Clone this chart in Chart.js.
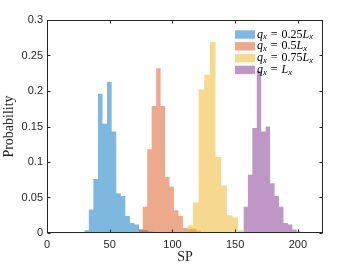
<!DOCTYPE html>
<html>
<head>
<meta charset="utf-8">
<script src="https://cdn.jsdelivr.net/npm/chart.js@4.4.1/dist/chart.umd.min.js"></script>
<style>
  html, body { margin: 0; padding: 0; background: #fff; }
  #chart { width: 357px; height: 268px; }
</style>
</head>
<body>
<div id="chart"><canvas id="c" width="357" height="268"></canvas></div>
<script>
// histogram data (probability per bin)
const labels = ["qₓ = 0.25Lₓ", "qₓ = 0.5Lₓ", "qₓ = 0.75Lₓ", "qₓ = Lₓ"];

// left edge of the first bin and bin width for each series (SP units)
const binStart = [29.7, 72.8, 111.9, 156.6];
const binWidth = [3.64, 3.55, 4.49, 3.54];

const probQ025 = [0.004, 0.033, 0.076, 0.196, 0.154, 0.213, 0.143, 0.056, 0.052, 0.024, 0.014, 0.012, 0.005, 0.004, 0.002];
const probQ050 = [0.005, 0.037, 0.118, 0.179, 0.232, 0.179, 0.079, 0.065, 0.032, 0.024, 0.007, 0.006, 0.006, 0.003, 0.001];
const probQ075 = [0.011, 0.043, 0.202, 0.223, 0.269, 0.107, 0.067, 0.025, 0.022, 0.004];
const probQ100 = [0.037, 0.082, 0.148, 0.228, 0.143, 0.150, 0.070, 0.052, 0.037, 0.014, 0.012, 0.005, 0.002];

const xTicks = [0, 50, 100, 150, 200];
const yTicks = [0, 0.05, 0.1, 0.15, 0.2, 0.25, 0.3];

// MATLAB default colours, face alpha 0.5
const colors = [
  "rgba(0,114,189,0.5)",
  "rgba(217,83,25,0.5)",
  "rgba(237,177,32,0.5)",
  "rgba(126,47,142,0.5)"
];

// turn bins into step points (left edges + closing right edge)
function steps(start, width, probs) {
  const pts = probs.map((p, i) => ({ x: start + i * width, y: p }));
  pts.push({ x: start + probs.length * width, y: 0 });
  return pts;
}

const series = [probQ025, probQ050, probQ075, probQ100];

const datasets = series.map((probs, i) => ({
  label: labels[i],
  data: steps(binStart[i], binWidth[i], probs),
  stepped: true,
  fill: "origin",
  backgroundColor: colors[i],
  borderColor: "rgba(0,0,0,0)",
  borderWidth: 0,
  pointRadius: 0,
  order: series.length - i
}));

const ink = "#262626";

// box with inward ticks on all four sides, like a MATLAB axes
const boxPlugin = {
  id: "box",
  afterDatasetsDraw(chart) {
    const { ctx, chartArea: a, scales } = chart;
    const L = Math.round(a.left) + 0.5, R = Math.round(a.right) - 0.5;
    const T = Math.round(a.top) + 0.5, B = Math.round(a.bottom) - 0.5;
    const len = 3;
    ctx.save();
    ctx.strokeStyle = ink;
    ctx.lineWidth = 1;
    ctx.strokeRect(L, T, R - L, B - T);
    ctx.beginPath();
    xTicks.forEach(v => {
      const px = Math.round(scales.x.getPixelForValue(v)) + 0.5;
      ctx.moveTo(px, B); ctx.lineTo(px, B - len);
      ctx.moveTo(px, T); ctx.lineTo(px, T + len);
    });
    yTicks.forEach(v => {
      const py = Math.round(scales.y.getPixelForValue(v)) + 0.5;
      ctx.moveTo(L, py); ctx.lineTo(L + len, py);
      ctx.moveTo(R, py); ctx.lineTo(R - len, py);
    });
    ctx.stroke();
    ctx.restore();
  }
};

// draw "qₓ = 0.25Lₓ" with italic letters and a subscript x
function drawMath(ctx, str, x, y, size) {
  for (const ch of str) {
    let c = ch, dy = 0, font;
    if (ch === "ₓ") {
      c = "x"; dy = size * 0.22;
      font = `italic ${size * 0.72}px "Liberation Serif"`;
    } else if (/[A-Za-z]/.test(ch)) {
      font = `italic ${size}px "Liberation Serif"`;
    } else {
      font = `${size}px "Liberation Serif"`;
    }
    ctx.font = font;
    ctx.fillText(c, x, y + dy);
    x += ctx.measureText(c).width;
    if (ch === " ") x += size * 0.08;
  }
}

// legend in the top right corner of the axes, no frame
const legendPlugin = {
  id: "mathLegend",
  afterDraw(chart) {
    const { ctx, chartArea: a } = chart;
    const x0 = a.right - 88;
    const y0 = a.top + 14.5;
    const rowH = 11.8;
    ctx.save();
    ctx.textBaseline = "middle";
    ctx.textAlign = "left";
    chart.data.datasets.forEach((ds, i) => {
      const cy = y0 + i * rowH;
      ctx.fillStyle = ds.backgroundColor;
      ctx.fillRect(x0, cy - 4.2, 20, 8.4);
      ctx.fillStyle = "#000";
      drawMath(ctx, ds.label, x0 + 22, cy, 12);
    });
    ctx.restore();
  }
};

Chart.defaults.font.family = "'Liberation Sans', Arial, sans-serif";
Chart.defaults.font.size = 11;
Chart.defaults.color = ink;

new Chart(document.getElementById("c"), {
  type: "line",
  data: { datasets },
  options: {
    responsive: false,
    animation: false,
    layout: { padding: { left: 0, top: 20, right: 34, bottom: 0 } },
    plugins: {
      legend: { display: false },
      tooltip: { enabled: false }
    },
    scales: {
      x: {
        type: "linear",
        min: 0,
        max: 220,
        grid: { display: false, drawTicks: false },
        border: { display: false },
        afterBuildTicks: s => { s.ticks = xTicks.map(v => ({ value: v })); },
        afterFit: s => { s.height = 35; },
        ticks: { padding: 5, maxRotation: 0, callback: v => String(v) },
        title: {
          display: true,
          text: "SP",
          font: { family: "'Liberation Serif', serif", size: 14 },
          padding: { top: 0, bottom: 2 }
        }
      },
      y: {
        type: "linear",
        min: 0,
        max: 0.3,
        grid: { display: false, drawTicks: false },
        border: { display: false },
        afterBuildTicks: s => { s.ticks = yTicks.map(v => ({ value: v })); },
        afterFit: s => { s.width = 47; },
        ticks: { padding: 4, callback: v => String(v) },
        title: {
          display: true,
          text: "Probability",
          font: { family: "'Liberation Serif', serif", size: 14 },
          padding: { top: 1, bottom: 0 }
        }
      }
    }
  },
  plugins: [boxPlugin, legendPlugin]
});
</script>
</body>
</html>
